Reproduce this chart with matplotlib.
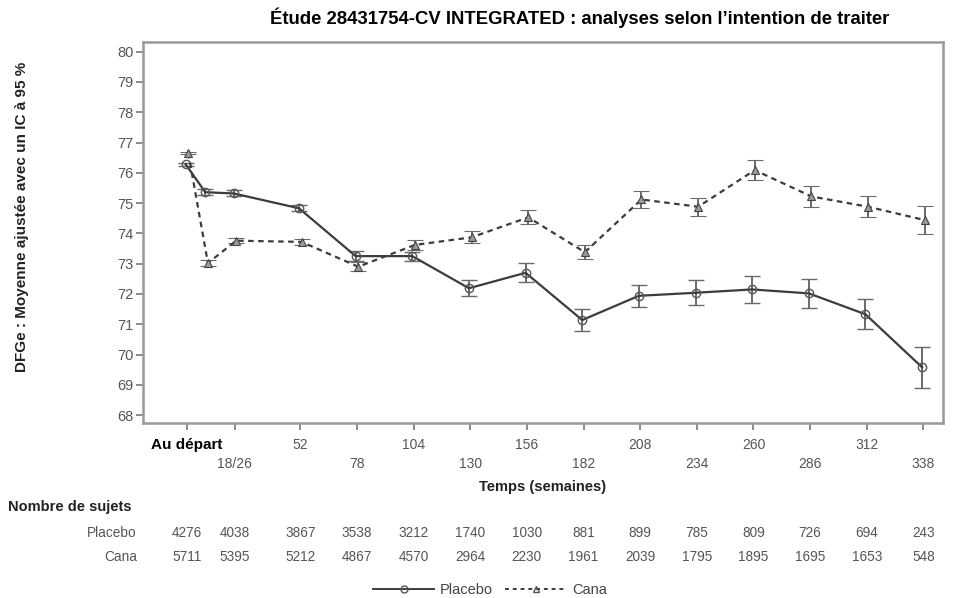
import matplotlib.pyplot as plt
import matplotlib.transforms as mtransforms
from matplotlib.lines import Line2D

plt.rcParams['font.family'] = ['Liberation Sans', 'DejaVu Sans']

# Data (weeks, adjusted mean eGFR, half-width of 95% CI)
weeks = [0, 9, 22, 52, 78, 104, 130, 156, 182, 208, 234, 260, 286, 312, 338]
placebo_mean = [76.28, 75.36, 75.32, 74.83, 73.25, 73.25, 72.19, 72.70, 71.14,
                71.94, 72.04, 72.15, 72.02, 71.33, 69.58]
placebo_ci = [0.05, 0.10, 0.10, 0.10, 0.16, 0.15, 0.26, 0.32, 0.36,
              0.37, 0.41, 0.45, 0.48, 0.50, 0.67]
cana_mean = [76.66, 73.02, 73.76, 73.72, 72.90, 73.62, 73.87, 74.53, 73.38,
             75.12, 74.88, 76.09, 75.22, 74.88, 74.44]
cana_ci = [0.04, 0.09, 0.09, 0.10, 0.14, 0.17, 0.20, 0.23, 0.24,
           0.29, 0.29, 0.32, 0.35, 0.35, 0.46]

tick_weeks = [0, 22, 52, 78, 104, 130, 156, 182, 208, 234, 260, 286, 312, 338]
tick_labels = ['Au départ', '18/26', '52', '78', '104', '130', '156', '182',
               '208', '234', '260', '286', '312', '338']
n_placebo = [4276, 4038, 3867, 3538, 3212, 1740, 1030, 881, 899, 785, 809, 726, 694, 243]
n_cana = [5711, 5395, 5212, 4867, 4570, 2964, 2230, 1961, 2039, 1795, 1895, 1695, 1653, 548]

fig = plt.figure(figsize=(9.57, 5.98), dpi=100)
ax = fig.add_axes([0.1494, 0.2926, 0.8360, 0.6372])

line_col = '#3c3c3c'
err_col = '#6a6a6a'

# Placebo
ax.errorbar([w - 0.6 for w in weeks], placebo_mean, yerr=placebo_ci,
            color=line_col, ecolor=err_col, elinewidth=1.4, capsize=5.5, capthick=1.4,
            linewidth=1.6, linestyle='-', marker='o', markersize=6,
            markerfacecolor='none', markeredgecolor='#555555', markeredgewidth=1.0)
# Cana
ax.errorbar([w + 0.6 for w in weeks], cana_mean, yerr=cana_ci,
            color=line_col, ecolor=err_col, elinewidth=1.4, capsize=5.5, capthick=1.4,
            linewidth=1.6, linestyle=(0, (2.5, 2.0)), marker='^', markersize=6,
            markerfacecolor='#9a9a9a', markeredgecolor='#444444', markeredgewidth=0.8)

ax.set_xlim(-20.2, 347)
ax.set_ylim(67.74, 80.32)
ax.set_yticks(range(68, 81))
ax.tick_params(axis='y', direction='out', length=5, width=1.2, color='#777777',
               labelcolor='#555555', labelsize=10.5, pad=2)

ax.set_xticks(tick_weeks)
xt = [lab if i % 2 == 0 else '\n' + lab for i, lab in enumerate(tick_labels)]
ax.set_xticklabels(xt, linespacing=1.45)
ax.tick_params(axis='x', direction='out', length=5, width=1.2, color='#777777',
               labelcolor='#555555', labelsize=10, pad=6)
first = ax.get_xticklabels()[0]
first.set_color('black')
first.set_fontweight('bold')
first.set_fontsize(11)

for sp in ax.spines.values():
    sp.set_color('#999999')
    sp.set_linewidth(1.8)

ax.set_ylabel('DFGe : Moyenne ajustée avec un IC à 95 %', fontsize=11,
              fontweight='bold', color='#222222')
ax.yaxis.set_label_coords(-0.143, 0.54)
ax.set_xlabel('Temps (semaines)', fontsize=10.5, fontweight='bold',
              color='#222222', labelpad=6)

fig.text(580 / 957, 1 - 18 / 598, 'Étude 28431754-CV INTEGRATED : analyses selon l\u2019intention de traiter',
         ha='center', va='center', fontsize=13.3, fontweight='bold', color='black')

# Number-at-risk table
trans = mtransforms.blended_transform_factory(ax.transData, fig.transFigure)
fig.text(8 / 957, 1 - 507 / 598, 'Nombre de sujets', ha='left', va='center',
         fontsize=10.5, fontweight='bold', color='#222222')
fig.text(137 / 957, 1 - 533 / 598, 'Placebo', ha='right', va='center',
         fontsize=9.8, color='#555555')
fig.text(137 / 957, 1 - 557 / 598, 'Cana', ha='right', va='center',
         fontsize=9.8, color='#555555')
for w, npl, nc in zip(tick_weeks, n_placebo, n_cana):
    ax.text(w, 1 - 533 / 598, str(npl), transform=trans, ha='center', va='center',
            fontsize=9.8, color='#555555')
    ax.text(w, 1 - 557 / 598, str(nc), transform=trans, ha='center', va='center',
            fontsize=9.8, color='#555555')

# Legend
handles = [
    Line2D([], [], color=line_col, linestyle='-', linewidth=1.4, marker='o',
           markersize=5, markerfacecolor='none', markeredgecolor='#555555'),
    Line2D([], [], color=line_col, linestyle=(0, (2, 2)), linewidth=1.4, marker='^',
           markersize=5, markerfacecolor='none', markeredgecolor='#555555'),
]
fig.legend(handles, ['Placebo', 'Cana'], loc='center', ncol=2, frameon=False,
           bbox_to_anchor=(490 / 957, 1 - 590 / 598), fontsize=10.5,
           handlelength=4.2, columnspacing=0.8, handletextpad=0.4,
           labelcolor='#444444')

fig.savefig('out.png', dpi=100)
